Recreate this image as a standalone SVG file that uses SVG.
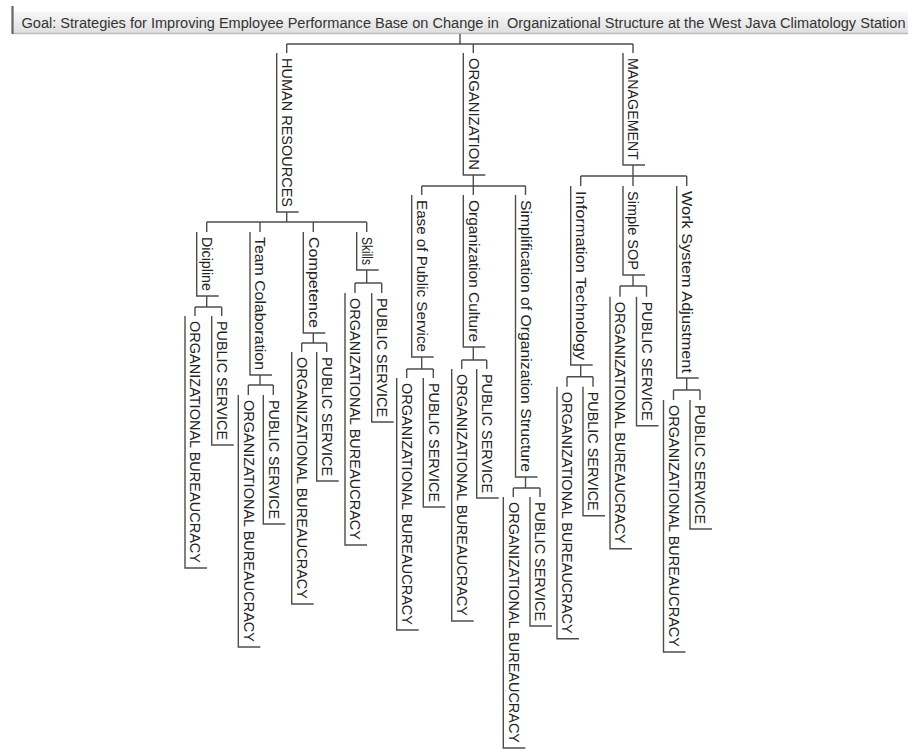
<svg xmlns="http://www.w3.org/2000/svg" width="908" height="751" viewBox="0 0 908 751">
<defs>
<linearGradient id="bar" x1="0" y1="0" x2="0" y2="1">
<stop offset="0" stop-color="#f7f7f7"/>
<stop offset="1" stop-color="#dedede"/>
</linearGradient>
</defs>
<style>
.br{fill:none;stroke:#4d4d4d;stroke-width:1.4}
.c{fill:none;stroke:#4d4d4d;stroke-width:1.4}
.t{font-family:"Liberation Sans",Arial,sans-serif;font-size:14px;fill:#222}
.g{font-family:"Liberation Sans",Arial,sans-serif;font-size:14px;fill:#333}
</style>
<rect width="908" height="751" fill="#ffffff"/>
<g id="goal">
<rect x="13" y="12" width="895" height="22" fill="url(#bar)"/>
<line x1="13" y1="33.5" x2="908" y2="33.5" stroke="#bcbcbc" stroke-width="1.5"/>
<line x1="12.5" y1="6" x2="12.5" y2="34" stroke="#666" stroke-width="2.2"/>
<text class="g" x="21.5" y="27.5" textLength="884" lengthAdjust="spacingAndGlyphs" xml:space="preserve">Goal: Strategies for Improving Employee Performance Base on Change in  Organizational Structure at the West Java Climatology Station</text>
</g>
<g id="connectors">
<path class="c" d="M460 34V44M286.7 44H633M286.7 44V53M473.3 44V53M633 44V53"/>
<path class="c" d="M286.7 212V222M206.7 222H366.7M206.7 222V232M260 222V232M313.3 222V232M366.7 222V232"/>
<path class="c" d="M473.3 175V186M421.7 186H525.5M421.7 186V195M473.3 186V195M525.5 186V195"/>
<path class="c" d="M633 165V176M580.7 176H686.7M580.7 176V186M633 176V186M686.7 176V186"/>
<path class="c" d="M206.7 296V307M195 307H221.7M195 307V316M221.7 307V316"/>
<path class="c" d="M260 375V385M248.3 385H273.3M248.3 385V395M273.3 385V395"/>
<path class="c" d="M313.3 333V343M301.7 343H326.7M301.7 343V352M326.7 343V352"/>
<path class="c" d="M366.7 270V283M355 283H381.7M355 283V293M381.7 283V293"/>
<path class="c" d="M421.7 357V369M406.7 369H433.3M406.7 369V378M433.3 369V378"/>
<path class="c" d="M473.3 347V360M461.7 360H486.7M461.7 360V369M486.7 360V369"/>
<path class="c" d="M525.5 477V488M513.3 488H540M513.3 488V497M540 488V497"/>
<path class="c" d="M580.7 365V376.7M567 376.7H593M567 376.7V386.7M593 376.7V386.7"/>
<path class="c" d="M633 275V286M620 286H646.5M620 286V296.7M646.5 286V296.7"/>
<path class="c" d="M686.7 378V390M673.5 390H700M673.5 390V400M700 390V400"/>
</g>
<g id="n-hr"><path class="br" d="M276.7 53V212H298.7"/><text class="t" transform="translate(281.9 58) rotate(90)" textLength="149" lengthAdjust="spacingAndGlyphs">HUMAN RESOURCES</text></g>
<g id="n-org"><path class="br" d="M463.3 53V175H485.3"/><text class="t" transform="translate(468.5 58) rotate(90)" textLength="112" lengthAdjust="spacingAndGlyphs">ORGANIZATION</text></g>
<g id="n-mgt"><path class="br" d="M623 53V165H645"/><text class="t" transform="translate(628.2 58) rotate(90)" textLength="102" lengthAdjust="spacingAndGlyphs">MANAGEMENT</text></g>

<g id="n-dis"><path class="br" d="M196.7 232V296H218.7"/><text class="t" transform="translate(201.9 237) rotate(90)" textLength="54" lengthAdjust="spacingAndGlyphs">Dicipline</text></g>
<g id="n-team"><path class="br" d="M250 232V375H272"/><text class="t" transform="translate(255.2 237) rotate(90)" textLength="133" lengthAdjust="spacingAndGlyphs">Team Colaboration</text></g>
<g id="n-comp"><path class="br" d="M303.3 232V333H325.3"/><text class="t" transform="translate(308.5 237) rotate(90)" textLength="91" lengthAdjust="spacingAndGlyphs">Competence</text></g>
<g id="n-skills"><path class="br" d="M356.7 232V270H378.7"/><text class="t" transform="translate(361.9 237) rotate(90)" textLength="28" lengthAdjust="spacingAndGlyphs">Skills</text></g>

<g id="n-ease"><path class="br" d="M411.7 195V357H433.7"/><text class="t" transform="translate(416.9 200) rotate(90)" textLength="152" lengthAdjust="spacingAndGlyphs">Ease of Public Service</text></g>
<g id="n-culture"><path class="br" d="M463.3 195V347H485.3"/><text class="t" transform="translate(468.5 200) rotate(90)" textLength="142" lengthAdjust="spacingAndGlyphs">Organization Culture</text></g>
<g id="n-simpl"><path class="br" d="M515.5 195V477H537.5"/><text class="t" transform="translate(520.7 200) rotate(90)" textLength="272" lengthAdjust="spacingAndGlyphs">Simplification of Organization Structure</text></g>

<g id="n-it"><path class="br" d="M570.7 186V365H592.7"/><text class="t" transform="translate(575.9 191) rotate(90)" textLength="169" lengthAdjust="spacingAndGlyphs">Information Technology</text></g>
<g id="n-sop"><path class="br" d="M623 186V275H645"/><text class="t" transform="translate(628.2 191) rotate(90)" textLength="79" lengthAdjust="spacingAndGlyphs">Simple SOP</text></g>
<g id="n-wsa"><path class="br" d="M676.7 186V378H698.7"/><text class="t" transform="translate(681.9 191) rotate(90)" textLength="182" lengthAdjust="spacingAndGlyphs">Work System Adjustment</text></g>

<g id="n-dis-ob"><path class="br" d="M185 316V568H207"/><text class="t" transform="translate(190.2 321) rotate(90)" textLength="242" lengthAdjust="spacingAndGlyphs">ORGANIZATIONAL BUREAUCRACY</text></g>
<g id="n-dis-ps"><path class="br" d="M211.7 316V445H233.7"/><text class="t" transform="translate(216.9 321) rotate(90)" textLength="119" lengthAdjust="spacingAndGlyphs">PUBLIC SERVICE</text></g>

<g id="n-team-ob"><path class="br" d="M238.3 395V647H260.3"/><text class="t" transform="translate(243.5 400) rotate(90)" textLength="242" lengthAdjust="spacingAndGlyphs">ORGANIZATIONAL BUREAUCRACY</text></g>
<g id="n-team-ps"><path class="br" d="M263.3 395V524H285.3"/><text class="t" transform="translate(268.5 400) rotate(90)" textLength="119" lengthAdjust="spacingAndGlyphs">PUBLIC SERVICE</text></g>

<g id="n-comp-ob"><path class="br" d="M291.7 352V604H313.7"/><text class="t" transform="translate(296.9 357) rotate(90)" textLength="242" lengthAdjust="spacingAndGlyphs">ORGANIZATIONAL BUREAUCRACY</text></g>
<g id="n-comp-ps"><path class="br" d="M316.7 352V481H338.7"/><text class="t" transform="translate(321.9 357) rotate(90)" textLength="119" lengthAdjust="spacingAndGlyphs">PUBLIC SERVICE</text></g>

<g id="n-skills-ob"><path class="br" d="M345 293V545H367"/><text class="t" transform="translate(350.2 298) rotate(90)" textLength="242" lengthAdjust="spacingAndGlyphs">ORGANIZATIONAL BUREAUCRACY</text></g>
<g id="n-skills-ps"><path class="br" d="M371.7 293V422H393.7"/><text class="t" transform="translate(376.9 298) rotate(90)" textLength="119" lengthAdjust="spacingAndGlyphs">PUBLIC SERVICE</text></g>

<g id="n-ease-ob"><path class="br" d="M396.7 378V630H418.7"/><text class="t" transform="translate(401.9 383) rotate(90)" textLength="242" lengthAdjust="spacingAndGlyphs">ORGANIZATIONAL BUREAUCRACY</text></g>
<g id="n-ease-ps"><path class="br" d="M423.3 378V507H445.3"/><text class="t" transform="translate(428.5 383) rotate(90)" textLength="119" lengthAdjust="spacingAndGlyphs">PUBLIC SERVICE</text></g>

<g id="n-culture-ob"><path class="br" d="M451.7 369V621H473.7"/><text class="t" transform="translate(456.9 374) rotate(90)" textLength="242" lengthAdjust="spacingAndGlyphs">ORGANIZATIONAL BUREAUCRACY</text></g>
<g id="n-culture-ps"><path class="br" d="M476.7 369V498H498.7"/><text class="t" transform="translate(481.9 374) rotate(90)" textLength="119" lengthAdjust="spacingAndGlyphs">PUBLIC SERVICE</text></g>

<g id="n-simpl-ob"><path class="br" d="M503.3 497V748H525.3"/><text class="t" transform="translate(508.5 502) rotate(90)" textLength="241" lengthAdjust="spacingAndGlyphs">ORGANIZATIONAL BUREAUCRACY</text></g>
<g id="n-simpl-ps"><path class="br" d="M530 497V626H552"/><text class="t" transform="translate(535.2 502) rotate(90)" textLength="119" lengthAdjust="spacingAndGlyphs">PUBLIC SERVICE</text></g>

<g id="n-it-ob"><path class="br" d="M557 386.7V638.7H579"/><text class="t" transform="translate(562.2 391.7) rotate(90)" textLength="242" lengthAdjust="spacingAndGlyphs">ORGANIZATIONAL BUREAUCRACY</text></g>
<g id="n-it-ps"><path class="br" d="M583 386.7V515.7H605"/><text class="t" transform="translate(588.2 391.7) rotate(90)" textLength="119" lengthAdjust="spacingAndGlyphs">PUBLIC SERVICE</text></g>

<g id="n-sop-ob"><path class="br" d="M610 296.7V548.7H632"/><text class="t" transform="translate(615.2 301.7) rotate(90)" textLength="242" lengthAdjust="spacingAndGlyphs">ORGANIZATIONAL BUREAUCRACY</text></g>
<g id="n-sop-ps"><path class="br" d="M636.5 296.7V425.7H658.5"/><text class="t" transform="translate(641.7 301.7) rotate(90)" textLength="119" lengthAdjust="spacingAndGlyphs">PUBLIC SERVICE</text></g>

<g id="n-wsa-ob"><path class="br" d="M663.5 400V652H685.5"/><text class="t" transform="translate(668.7 405) rotate(90)" textLength="242" lengthAdjust="spacingAndGlyphs">ORGANIZATIONAL BUREAUCRACY</text></g>
<g id="n-wsa-ps"><path class="br" d="M690 400V529H712"/><text class="t" transform="translate(695.2 405) rotate(90)" textLength="119" lengthAdjust="spacingAndGlyphs">PUBLIC SERVICE</text></g>
</svg>
